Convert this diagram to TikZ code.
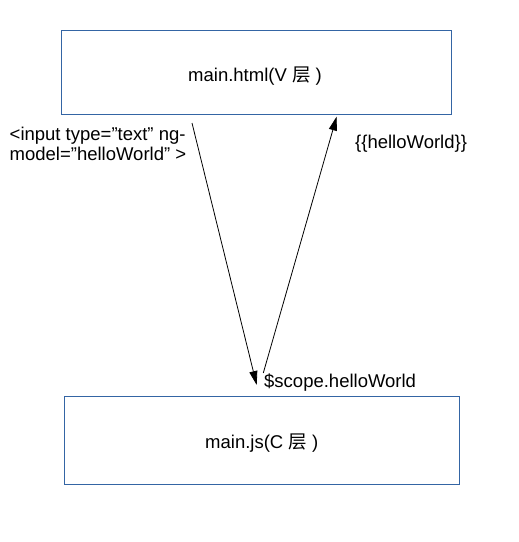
\documentclass[tikz,border=0pt]{standalone}
\usepackage{fontspec}
\setmainfont{Liberation Sans}[Ligatures=NoCommon]
\newfontfamily\cjk{Noto Sans CJK SC}
\usetikzlibrary{arrows.meta}
\definecolor{boxblue}{HTML}{3465A4}
\newcommand{\dq}{\symbol{34}}
\tikzset{
  layerbox/.style={draw=boxblue, line width=0.9pt},
  lbl/.style={inner sep=0pt, anchor=base west, font=\fontsize{18.5}{21.5}\selectfont},
  flow/.style={draw=black, line width=0.8pt, -{Triangle[length=14pt,width=8pt]}}
}
\begin{document}
\begin{tikzpicture}[x=1pt,y=-1pt]
\useasboundingbox (0,0) rectangle (519,542);
\draw[layerbox] (61,30) rectangle (451,114);
\draw[layerbox] (64,396) rectangle (459,484);
\node[lbl] (vt) at (188,81.5) {main.html(V {\cjk 层} )};
\node[lbl] (ct) at (205,448) {main.js(C {\cjk 层} )};
\node[lbl] (in1) at (9.5,140.5) {<input type=\dq text\dq\ ng-};
\node[lbl] (in2) at (9.5,160.5) {model=\dq helloWorld\dq\ >};
\node[lbl] (hw) at (355,148) {\{\{helloWorld\}\}};
\node[lbl] (sc) at (264,387) {\$scope.helloWorld};
\coordinate (a1s) at (192,123);
\coordinate (a1e) at (256.7,385);
\coordinate (a2s) at (263.3,373);
\coordinate (a2e) at (336.7,116.5);
\draw[flow] (a1s) -- (a1e);
\draw[flow] (a2s) -- (a2e);
\end{tikzpicture}
\end{document}
